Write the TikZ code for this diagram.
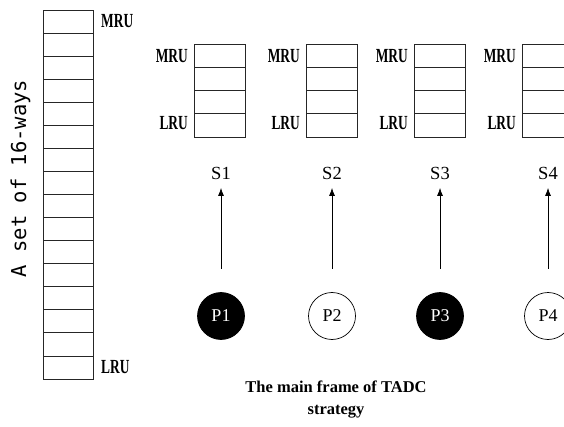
\documentclass[tikz,border=0pt]{standalone}
\usepackage{fontspec}
\setmainfont{Liberation Serif}
\newfontfamily\waysfont{DejaVu Sans Mono}
\usetikzlibrary{arrows.meta}
\tikzset{
  cell/.style={draw=black!85, line width=0.8pt},
  tag/.style={font=\fontsize{20}{20}\selectfont\bfseries, inner sep=0pt},
  slabel/.style={font=\fontsize{18.5}{18.5}\selectfont, inner sep=0pt},
  proc/.style={circle, draw=black, line width=0.7pt, minimum size=47pt, inner sep=0pt,
    font=\fontsize{18}{18}\selectfont},
  uparrow/.style={-{Latex[length=8pt,width=6pt]}, line width=0.7pt,
    shorten <=23.5pt, shorten >=8pt},
  caption/.style={font=\fontsize{16.5}{16.5}\selectfont\bfseries, inner sep=0pt}
}
\newcommand{\narrow}[1]{\scalebox{0.67}[1]{#1}}
\begin{document}
\begin{tikzpicture}[x=1pt,y=-1pt]
\useasboundingbox (0,0) rectangle (564,427);
\clip (0,0) rectangle (564,427);

% the 16-way set
\foreach \i in {0,...,15}
  \draw[cell] (43,{10+\i*23.0625}) rectangle (93,{10+(\i+1)*23.0625});
\node[tag, anchor=west] (bigmru) at (101,21.5) {\narrow{MRU}};
\node[tag, anchor=west] (biglru) at (101,367.5) {\narrow{LRU}};
\node[rotate=90, inner sep=0pt, font=\waysfont\fontsize{20.5}{20.5}\selectfont]
  (ways) at (20.5,178.5) {A set of 16-ways};

% four per-core partitions
\foreach \x/\n in {194/1,306/2,414/3,522/4}{
  \foreach \j in {0,...,3}
    \draw[cell] (\x,{44+\j*23.25}) rectangle ({\x+51},{44+(\j+1)*23.25});
  \node[tag, anchor=east] (mru\n) at ({\x-6},56.5) {\narrow{MRU}};
  \node[tag, anchor=east] (lru\n) at ({\x-6},123.5) {\narrow{LRU}};
}

% sets and processes
\foreach \x/\n/\f/\t in {221/1/black/white,332/2/white/black,440/3/black/white,548/4/white/black}{
  \node[slabel] (S\n) at (\x,173.5) {S\n};
  \node[proc, fill=\f, text=\t] (P\n) at (\x,316) {P\n};
  \draw[uparrow] (P\n) -- (S\n);
}

% caption
\node[caption] (cap1) at (336,387) {The main frame of TADC};
\node[caption] (cap2) at (336,412) {strategy};
\end{tikzpicture}
\end{document}
